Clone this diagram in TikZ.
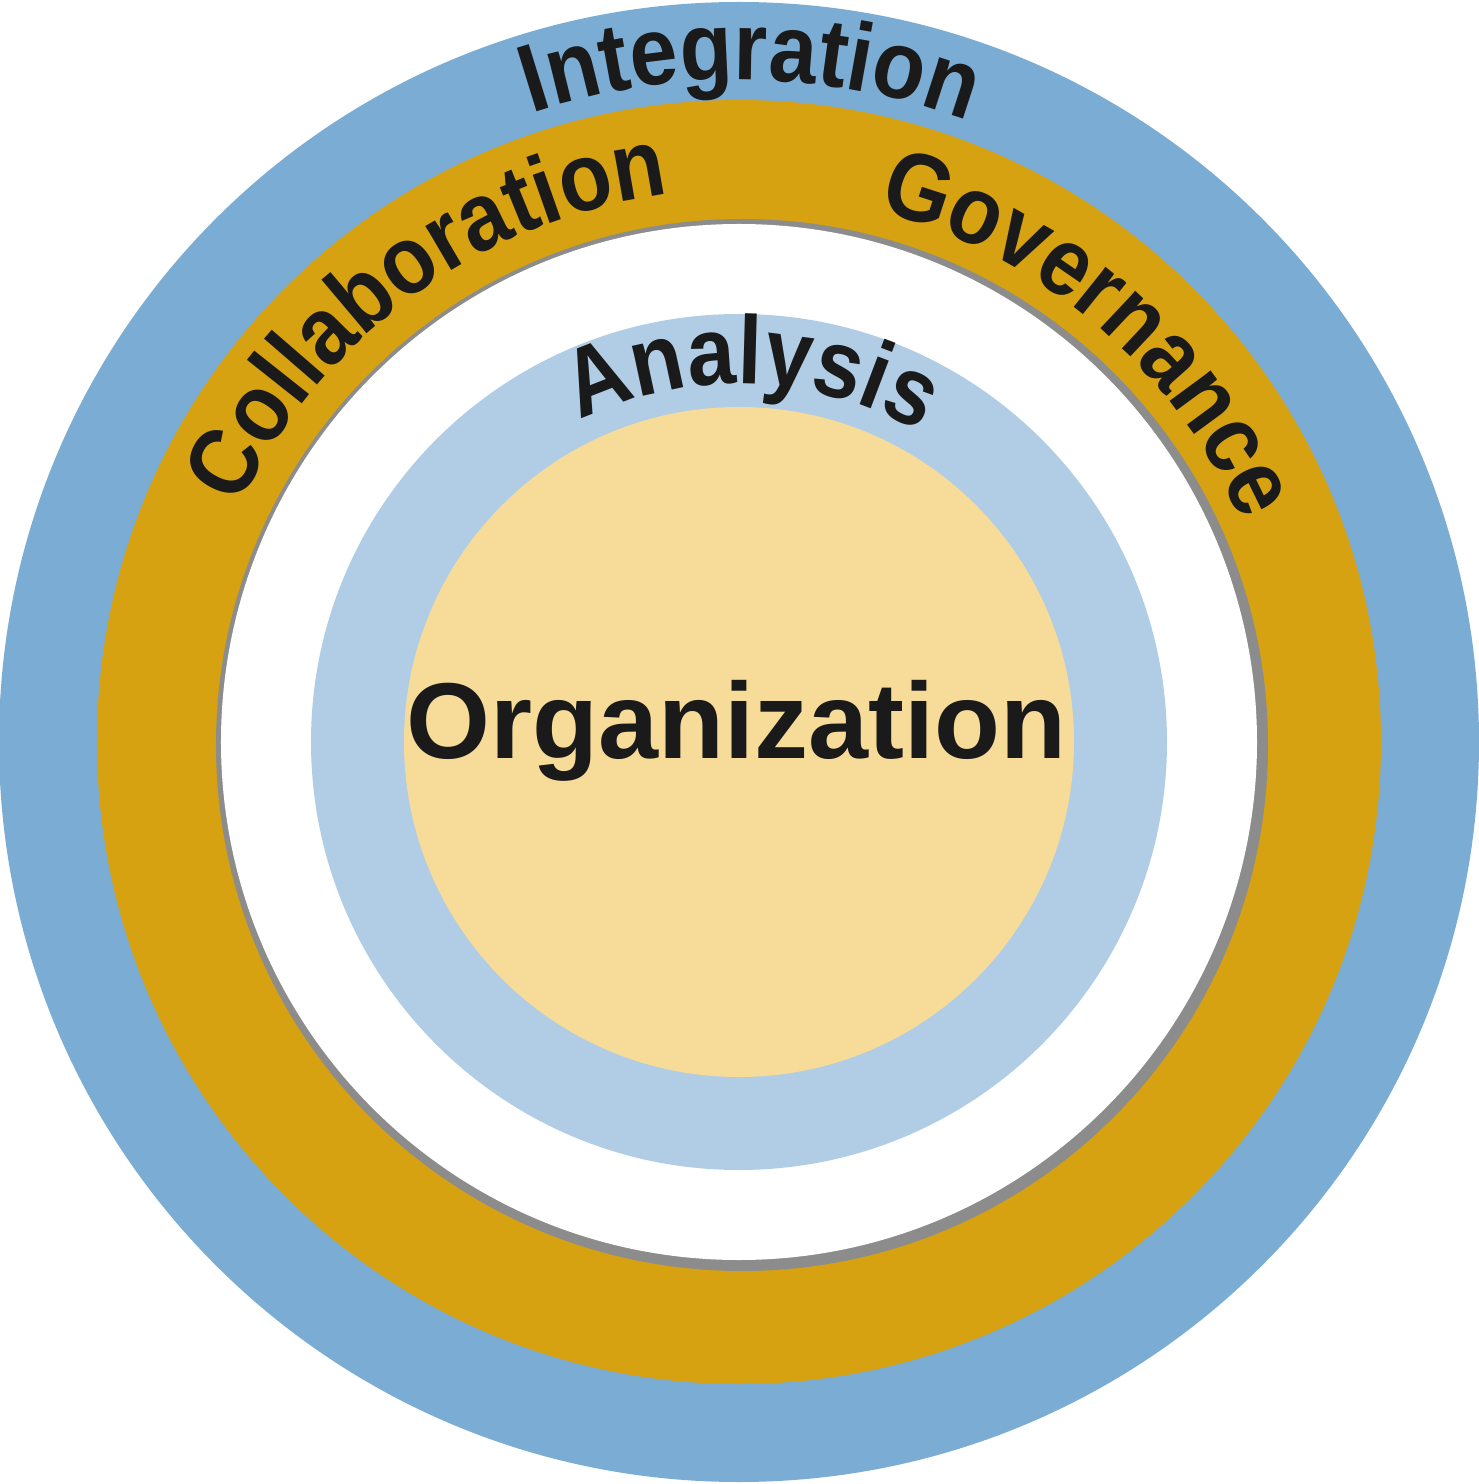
\documentclass[tikz,border=0pt]{standalone}
\usepackage{fontspec}
\setmainfont{Liberation Sans}
\newfontfamily\ringfont[FakeStretch=0.89]{Liberation Sans}
\usetikzlibrary{decorations.text}
\definecolor{outerblue}{HTML}{7BACD4}
\definecolor{ringgold}{HTML}{D7A211}
\definecolor{shadowgray}{HTML}{8C8C8C}
\definecolor{paleblue}{HTML}{B0CDE5}
\definecolor{coreyellow}{HTML}{F6DC98}
\definecolor{ink}{HTML}{1A1A1A}
\newcommand{\ringtext}{\fontsize{27.5}{30}\ringfont\bfseries}

\begin{document}
\begin{tikzpicture}[ringlabel/.style={decorate, decoration={text along path, text align=center, text color=ink, text={|\ringtext|#1}}}]
	\useasboundingbox (-7.39, -7.42) rectangle (7.39, 7.42);
	% rings from outside in
	\fill [outerblue] (0, 0) circle (7.40);
	\fill [ringgold] (0, 0) circle (6.42);
	\fill [shadowgray] (0.03, -0.03) circle (5.26);
	\fill [white] (0, 0) circle (5.18);
	\fill [paleblue] (0, 0) circle (4.28);
	\fill [coreyellow] (0, 0) circle (3.35);
	% curved labels
	\path [ringlabel=Integration] (124:6.62) arc [start angle=124, end angle=54, radius=6.62];
	\path [ringlabel=Collaboration] (166:5.52) arc [start angle=166, end angle=86, radius=5.52];
	\path [ringlabel=Governance] (89.5:5.49) arc [start angle=89.5, end angle=9.5, radius=5.49];
	\path [ringlabel=Analysis] (128:3.58) arc [start angle=128, end angle=48, radius=3.58];
	\node [anchor=base, text=ink, font=\fontsize{30.7}{34}\selectfont\bfseries] (org) at (-0.025, -0.16) {Organization};
\end{tikzpicture}
\end{document}
